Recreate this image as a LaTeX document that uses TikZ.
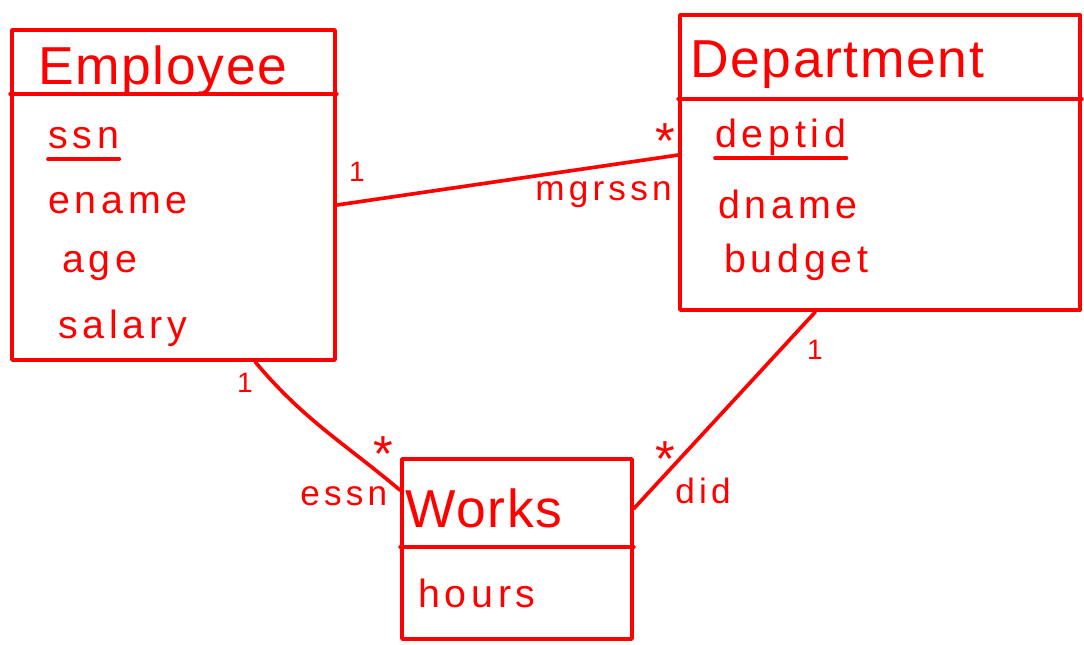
\documentclass[tikz,border=0pt]{standalone}
\usepackage{fontspec}
\setmainfont[LetterSpace=12]{Liberation Sans}
\newfontfamily\titlefont[LetterSpace=3]{Liberation Sans}
\usetikzlibrary{calc}

\definecolor{pen}{RGB}{255,0,0}

\tikzset{
  ink/.style={draw=pen, line width=2.6pt, line cap=round, line join=round},
  classbox/.style={ink, rectangle, inner sep=0pt},
  title/.style={text=pen, anchor=base west, inner sep=0pt, font=\titlefont\fontsize{38}{40}\selectfont},
  attr/.style={text=pen, anchor=base west, inner sep=0pt, font=\fontsize{28}{30}\selectfont},
  role/.style={text=pen, anchor=base west, inner sep=0pt, font=\fontsize{25}{27}\selectfont},
  one/.style={text=pen, inner sep=0pt, font=\fontsize{20}{22}\selectfont},
  many/.style={text=pen, anchor=base, inner sep=0pt, font=\fontsize{36}{38}\selectfont},
}

\begin{document}
\begin{tikzpicture}[x=0.025cm,y=-0.025cm]
\useasboundingbox (0,0) rectangle (1084,644);

% the three classes
\node[classbox, minimum width=8.075cm, minimum height=8.25cm] (emp) at (173.5,195) {};
\node[classbox, minimum width=10cm, minimum height=7.375cm] (dept) at (880,162.5) {};
\node[classbox, minimum width=5.75cm, minimum height=4.5cm] (works) at (517,549) {};

\draw[ink] ($(emp.north west)!0.197!(emp.south west)$) -- ($(emp.north east)!0.197!(emp.south east)$);
\draw[ink] ($(dept.north west)!0.288!(dept.south west)$) -- ($(dept.north east)!0.288!(dept.south east)$);
\draw[ink] ($(works.north west)!0.489!(works.south west)$) -- ($(works.north east)!0.489!(works.south east)$);

\node[title] (empname) at (38,85) {Employee};
\node[title] (deptname) at (690,78) {Department};
\node[title] (worksname) at (405,527) {Works};

% attributes
\node[attr] (ssn) at (48,148) {ssn};
\draw[ink] ([yshift=-8pt]ssn.base west) -- ([yshift=-8pt]ssn.base east);
\node[attr] (ename) at (48,213) {ename};
\node[attr] (age) at (62,272) {age};
\node[attr] (salary) at (58,338) {salary};

\node[attr] (deptid) at (715,147) {deptid};
\draw[ink] ([yshift=-8pt]deptid.base west) -- ([yshift=-8pt]deptid.base east);
\node[attr] (dname) at (718,218) {dname};
\node[attr] (budget) at (724,272) {budget};

\node[attr] (hours) at (418,607) {hours};

% associations
\coordinate (empright) at ($(emp.north east)!0.53!(emp.south east)$);
\coordinate (deptleft) at ($(dept.north west)!0.475!(dept.south west)$);
\coordinate (empbot) at ($(emp.south)!0.5!(emp.south east)$);
\coordinate (deptbot) at ($(dept.south west)!0.34!(dept.south east)$);
\coordinate (worksl) at ($(works.north west)!0.18!(works.south west)$);
\coordinate (worksr) at ($(works.north east)!0.28!(works.south east)$);

\draw[ink] (empright) -- (deptleft);
\draw[ink] (empbot) to[out=-50,in=140] (worksl);
\draw[ink] (deptbot) -- (worksr);

\node[one] (m1) at (357,172) {1};
\node[many] (m2) at (665,158) {*};
\node[role] (mgrssn) at (535,200) {mgrssn};

\node[one] (m3) at (245,383) {1};
\node[many] (m4) at (383,471) {*};
\node[role] (essn) at (300,505) {essn};

\node[one] (m5) at (815,350) {1};
\node[many] (m6) at (665,476) {*};
\node[role] (did) at (675,503) {did};
\end{tikzpicture}
\end{document}
